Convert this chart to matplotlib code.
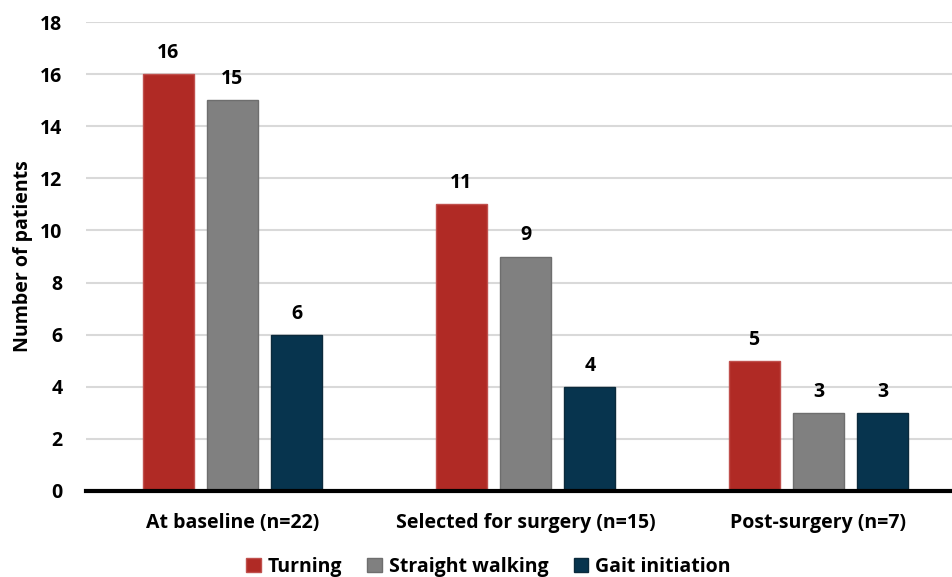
import numpy as np
import matplotlib.pyplot as plt
from matplotlib.patches import Patch

plt.rcParams['font.family'] = ['Open Sans', 'DejaVu Sans']
plt.rcParams['font.weight'] = 'bold'

groups = ['At baseline (n=22)', 'Selected for surgery (n=15)', 'Post-surgery (n=7)']
series = ['Turning', 'Straight walking', 'Gait initiation']
turning = [16, 11, 5]
straight = [15, 9, 3]
gait = [6, 4, 3]
colors = ['#B02A25', '#808080', '#07344E']
edges = ['#C0504D', '#6E6E6E', '#0B2A3C']

fig = plt.figure(figsize=(9.52, 5.77), dpi=100)
ax = fig.add_axes([86/952, 86/577, 879/952, 469/577])

x = np.arange(len(groups))
w = 0.174
step = 0.22
for i, (vals, c, ec) in enumerate(zip([turning, straight, gait], colors, edges)):
    pos = x + (i - 1) * step
    bars = ax.bar(pos, vals, w, color=c, edgecolor=ec, linewidth=1, zorder=3)
    for b, v in zip(bars, vals):
        ax.annotate(str(v), (b.get_x() + b.get_width() / 2, v),
                    xytext=(0, 8), textcoords='offset points',
                    ha='center', va='bottom', fontsize=14, fontweight='bold')

ax.set_xlim(-0.5, 2.5)
ax.set_ylim(0, 18)
ax.set_yticks(range(0, 19, 2))
ax.yaxis.grid(True, color='#D9D9D9', linewidth=1.5, zorder=0)
ax.set_axisbelow(True)
for s in ['top', 'right', 'left']:
    ax.spines[s].set_visible(False)
ax.spines['bottom'].set_linewidth(3)
ax.spines['bottom'].set_zorder(4)
ax.tick_params(axis='both', length=0, labelsize=14)
ax.tick_params(axis='x', pad=16)
ax.tick_params(axis='y', pad=17)
ax.set_xticks(x)
ax.set_xticklabels(groups, fontweight='bold')
for t in ax.get_yticklabels():
    t.set_fontweight('bold')
ax.set_ylabel('Number of patients', fontsize=14, fontweight='bold', labelpad=5)

handles = [Patch(facecolor=c, edgecolor=ec) for c, ec in zip(colors, edges)]
fig.legend(handles, series, loc='center', bbox_to_anchor=(0.513, 0.018),
           ncol=3, frameon=False, handlelength=0.75, handleheight=0.75,
           handletextpad=0.35, columnspacing=1.3, prop={'weight': 'bold', 'size': 14})

fig.savefig('out.png', dpi=100)
